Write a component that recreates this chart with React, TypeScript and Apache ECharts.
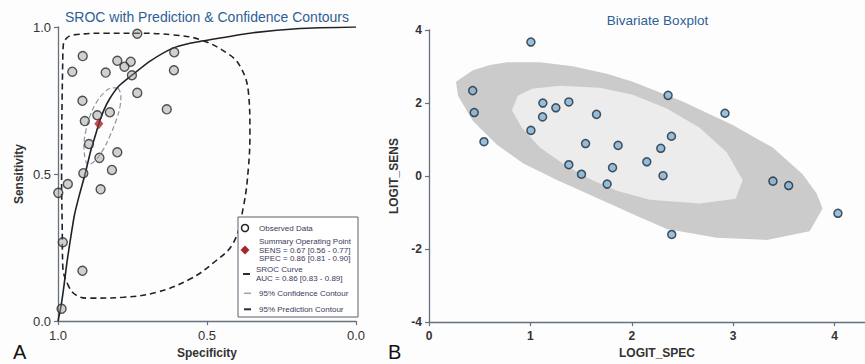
import React, { useEffect, useRef } from "react";
import * as echarts from "echarts";

// ---------- Panel A: SROC ----------
// observed studies: [specificity, sensitivity]
const observedData: number[][] = [
  [0.734, 0.977], [0.917, 0.901], [0.952, 0.848], [0.801, 0.885], [0.756, 0.882],
  [0.777, 0.865], [0.840, 0.845], [0.752, 0.836], [0.610, 0.914], [0.611, 0.853],
  [0.734, 0.776], [0.918, 0.749], [0.635, 0.720], [0.868, 0.700], [0.826, 0.710],
  [0.910, 0.680], [0.896, 0.602], [0.861, 0.555], [0.801, 0.574], [0.915, 0.503],
  [0.819, 0.514], [0.967, 0.466], [0.999, 0.436], [0.857, 0.448], [0.984, 0.268],
  [0.918, 0.171], [0.988, 0.042],
];
const summaryPoint: number[][] = [[0.863, 0.671]];
const srocCurve: number[][] = [
  [1.0, 0.0], [0.99, 0.05], [0.98, 0.12], [0.97, 0.2], [0.958, 0.28], [0.945, 0.36],
  [0.928, 0.43], [0.909, 0.5], [0.89, 0.58], [0.875, 0.63], [0.863, 0.671],
  [0.845, 0.72], [0.826, 0.757], [0.795, 0.8], [0.752, 0.836],
  [0.691, 0.884], [0.613, 0.929], [0.557, 0.945], [0.523, 0.951], [0.356, 0.979],
  [0.188, 0.995], [0.0, 1.0],
];
const predictionContour: number[][] = [
  [0.984, 0.89], [0.982, 0.94], [0.971, 0.962], [0.949, 0.973], [0.837, 0.979],
  [0.735, 0.979], [0.613, 0.973], [0.523, 0.957], [0.434, 0.912], [0.389, 0.867],
  [0.361, 0.778], [0.356, 0.644], [0.361, 0.522], [0.378, 0.388], [0.412, 0.265],
  [0.479, 0.198], [0.557, 0.143], [0.669, 0.098], [0.781, 0.081], [0.893, 0.078],
  [0.937, 0.087], [0.965, 0.12], [0.984, 0.187], [0.986, 0.332], [0.988, 0.488],
  [0.987, 0.689], [0.984, 0.89],
];
const confidenceContour: number[][] = [
  [0.799, 0.793], [0.789, 0.769], [0.792, 0.729], [0.805, 0.682], [0.826, 0.629],
  [0.849, 0.582], [0.876, 0.545], [0.899, 0.532], [0.909, 0.555], [0.913, 0.595],
  [0.906, 0.649], [0.893, 0.696], [0.872, 0.742], [0.846, 0.776], [0.819, 0.793],
  [0.799, 0.793],
];
const legendLines: string[] = [
  "Observed Data",
  "Summary Operating Point",
  "SENS = 0.67 [0.56 - 0.77]",
  "SPEC = 0.86 [0.81 - 0.90]",
  "SROC Curve",
  "AUC = 0.86 [0.83 - 0.89]",
  "95% Confidence Contour",
  "95% Prediction Contour",
];

// ---------- Panel B: Bivariate boxplot ----------
// [LOGIT_SPEC, LOGIT_SENS]
const logitPoints: number[][] = [
  [1.005, 3.67], [0.431, 2.34], [0.446, 1.74], [0.542, 0.94], [1.123, 2.0],
  [1.251, 1.87], [1.379, 2.03], [1.12, 1.62], [1.005, 1.25], [1.652, 1.69],
  [1.544, 0.89], [1.865, 0.84], [1.379, 0.31], [1.504, 0.05], [1.81, 0.23],
  [1.757, -0.22], [2.358, 2.21], [2.919, 1.72], [2.391, 1.09], [2.286, 0.76],
  [2.148, 0.39], [2.308, 0.01], [3.392, -0.14], [3.547, -0.26], [4.033, -1.02],
  [2.394, -1.6],
];
const outerFence: number[][] = [
  [0.266, 2.58], [0.433, 2.9], [0.601, 3.04], [0.768, 3.12], [1.094, 3.12],
  [1.419, 3.01], [1.754, 2.8], [2.01, 2.58], [2.502, 2.04], [2.995, 1.4],
  [3.389, 0.78], [3.685, 0.05], [3.823, -0.48], [3.882, -0.89], [3.754, -1.51],
  [3.33, -1.75], [2.837, -1.69], [2.345, -1.45], [2.079, -1.13], [1.586, -0.51],
  [1.261, -0.11], [0.926, 0.35], [0.67, 0.86], [0.433, 1.51], [0.286, 2.2],
];
const innerHinge: number[][] = [
  [0.818, 1.8], [0.877, 2.2], [1.015, 2.39], [1.291, 2.47], [1.685, 2.42],
  [2.01, 2.23], [2.345, 1.85], [2.67, 1.32], [2.936, 0.65], [3.094, -0.11],
  [3.025, -0.62], [2.67, -0.75], [2.177, -0.65], [1.852, -0.4], [1.586, -0.08],
  [1.34, 0.3], [1.094, 0.78], [0.916, 1.32],
];

const FONT = "'Liberation Sans', Arial, sans-serif";
const AXIS_COLOR = "#66717c";
const LABEL_COLOR = "#333333";
const TITLE_COLOR = "#2e5f95";
const LEGEND_TEXT = "#3b3b5c";

function axisCommon() {
  return {
    type: "value" as const,
    splitLine: { show: false },
    axisLine: { show: true, onZero: false, lineStyle: { color: AXIS_COLOR, width: 1.3 } },
    axisTick: { show: true, length: 4, lineStyle: { color: AXIS_COLOR, width: 1.2 } },
    nameTextStyle: { fontFamily: FONT, fontSize: 12, fontWeight: "bold" as const, color: LABEL_COLOR },
  };
}

export default function App() {
  const ref = useRef<HTMLDivElement>(null);
  useEffect(() => {
    if (!ref.current) return;
    const chart = echarts.init(ref.current, null, { renderer: "svg" });

    const polygonSeries = (pts: number[][], fill: string, z: number) => ({
      type: "custom",
      xAxisIndex: 1,
      yAxisIndex: 1,
      z,
      silent: true,
      data: [pts[0]],
      renderItem: (_params: any, api: any) => ({
        type: "polygon",
        shape: { points: pts.map((p) => api.coord(p)) },
        style: { fill },
      }),
    });

    const lx = 259;
    const legendText = (text: string, y: number, x = lx) => ({
      type: "text",
      z: 20,
      x,
      y,
      style: { text, fill: LEGEND_TEXT, font: `8px ${FONT}`, textVerticalAlign: "middle" },
    });

    const option: any = {
      animation: false,
      backgroundColor: "#fdfdfd",
      grid: [
        { left: 58, top: 27, width: 298, height: 299 },
        { left: 429, top: 30, width: 436.5, height: 297.3 },
      ],
      xAxis: [
        {
          ...axisCommon(),
          gridIndex: 0,
          inverse: true,
          min: 0,
          max: 1,
          interval: 0.5,
          name: "Specificity",
          nameLocation: "middle",
          nameGap: 22,
          axisLabel: {
            formatter: (v: number) => v.toFixed(1),
            fontFamily: FONT, fontSize: 13, color: LABEL_COLOR, margin: 8,
          },
        },
        {
          ...axisCommon(),
          gridIndex: 1,
          min: 0,
          max: 4.3,
          interval: 1,
          name: "LOGIT_SPEC",
          nameLocation: "middle",
          nameGap: 22,
          nameTextStyle: { ...axisCommon().nameTextStyle, padding: [0, 0, 0, 20] },
          axisLabel: {
            formatter: (v: number) => (Number.isInteger(v) ? String(v) : ""),
            showMaxLabel: false,
            fontFamily: FONT, fontSize: 12, fontWeight: "bold", color: LABEL_COLOR, margin: 8,
          },
        },
      ],
      yAxis: [
        {
          ...axisCommon(),
          gridIndex: 0,
          min: 0,
          max: 1,
          interval: 0.5,
          name: "Sensitivity",
          nameLocation: "middle",
          nameGap: 33,
          axisLabel: {
            formatter: (v: number) => v.toFixed(1),
            fontFamily: FONT, fontSize: 13, color: LABEL_COLOR, margin: 7,
          },
        },
        {
          ...axisCommon(),
          gridIndex: 1,
          min: -4,
          max: 4,
          interval: 2,
          name: "LOGIT_SENS",
          nameLocation: "middle",
          nameGap: 28,
          axisLabel: {
            fontFamily: FONT, fontSize: 12, fontWeight: "bold", color: LABEL_COLOR, margin: 7,
          },
        },
      ],
      series: [
        {
          type: "line",
          xAxisIndex: 0, yAxisIndex: 0,
          data: predictionContour,
          showSymbol: false, symbol: "none", smooth: 0.4,
          lineStyle: { color: "#1f2327", width: 1.6, type: [6, 4] },
          z: 2,
        },
        {
          type: "line",
          xAxisIndex: 0, yAxisIndex: 0,
          data: confidenceContour,
          showSymbol: false, symbol: "none", smooth: 0.4,
          lineStyle: { color: "#8796a6", width: 1.2, type: [5, 3] },
          z: 2,
        },
        {
          type: "line",
          xAxisIndex: 0, yAxisIndex: 0,
          data: srocCurve,
          showSymbol: false, symbol: "none", smooth: 0.2,
          lineStyle: { color: "#1f2327", width: 1.6 },
          z: 3,
        },
        {
          type: "scatter",
          xAxisIndex: 0, yAxisIndex: 0,
          data: observedData,
          symbolSize: 9,
          itemStyle: { color: "rgba(150,150,150,0.55)", borderColor: "#2a2a2a", borderWidth: 1.4 },
          z: 4,
        },
        {
          type: "scatter",
          xAxisIndex: 0, yAxisIndex: 0,
          data: summaryPoint,
          symbol: "diamond",
          symbolSize: [9, 11],
          itemStyle: { color: "#a3282c" },
          z: 5,
        },
        polygonSeries(outerFence, "#cbcbcb", 1),
        polygonSeries(innerHinge, "#ececec", 2),
        {
          type: "scatter",
          xAxisIndex: 1, yAxisIndex: 1,
          data: logitPoints,
          symbolSize: 8,
          itemStyle: { color: "#7fb2d6", borderColor: "#1c2b3a", borderWidth: 1.5 },
          z: 5,
        },
      ],
      graphic: [
        {
          type: "text", x: 207, y: 17,
          style: { text: "SROC with Prediction & Confidence Contours", fill: TITLE_COLOR, font: `14px ${FONT}`, textAlign: "center", textVerticalAlign: "middle" },
        },
        {
          type: "text", x: 657.5, y: 20,
          style: { text: "Bivariate Boxplot", fill: TITLE_COLOR, font: `13.5px ${FONT}`, textAlign: "center", textVerticalAlign: "middle" },
        },
        {
          type: "text", x: 13, y: 352,
          style: { text: "A", fill: "#111", font: `20px ${FONT}`, textVerticalAlign: "middle" },
        },
        {
          type: "text", x: 388, y: 352,
          style: { text: "B", fill: "#111", font: `20px ${FONT}`, textVerticalAlign: "middle" },
        },
        // legend box
        {
          type: "rect", z: 10, shape: { x: 238, y: 217, width: 120, height: 100 },
          style: { fill: "#ffffff", stroke: "#55606a", lineWidth: 1 },
        },
        { type: "circle", z: 20, shape: { cx: 245, cy: 228, r: 3.5 }, style: { fill: "none", stroke: "#222", lineWidth: 1.5 } },
        legendText(legendLines[0], 228),
        { type: "polygon", z: 20, shape: { points: [[245, 245.5], [249.5, 250], [245, 254.5], [240.5, 250]] }, style: { fill: "#a3282c" } },
        legendText(legendLines[1], 241.5),
        legendText(legendLines[2], 250),
        legendText(legendLines[3], 258.5),
        { type: "line", z: 20, shape: { x1: 243, y1: 274, x2: 250, y2: 274 }, style: { stroke: "#2a2f35", lineWidth: 2 } },
        legendText(legendLines[4], 269, 256),
        legendText(legendLines[5], 278, 256),
        { type: "line", z: 20, shape: { x1: 244, y1: 293.3, x2: 251, y2: 293.3 }, style: { stroke: "#9aa3ad", lineWidth: 1.5 } },
        legendText(legendLines[6], 293.3),
        { type: "line", z: 20, shape: { x1: 244, y1: 309.3, x2: 251, y2: 309.3 }, style: { stroke: "#2a2f35", lineWidth: 2 } },
        legendText(legendLines[7], 309.3),
      ],
    };

    chart.setOption(option);
    return () => chart.dispose();
  }, []);

  return (
    <div
      ref={ref}
      style={{ position: "fixed", left: 0, top: 0, width: 865, height: 364 }}
    />
  );
}
